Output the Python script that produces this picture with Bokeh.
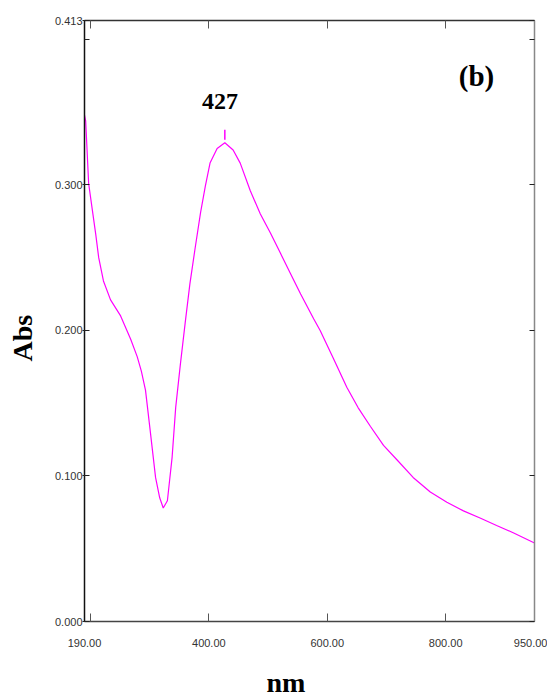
from bokeh.plotting import figure
from bokeh.models import Range1d, LinearAxis, FixedTicker, PrintfTickFormatter, Label, Title, ColumnDataSource
from bokeh.embed import file_html
from bokeh.resources import INLINE

# Spectrum
wavelength = [190, 192, 197, 203.5, 209, 214, 222, 234, 251, 268, 279, 286, 293, 301, 310, 317,
              323, 330, 338, 344, 352, 360, 368, 377, 386, 394, 402, 414, 427, 441, 453, 470,
              487, 504, 521, 538, 555, 577, 588, 610, 633, 652, 673, 695, 718, 745, 774, 802,
              830, 859, 886, 914, 950]
absorb = [0.348, 0.344, 0.301, 0.282, 0.266, 0.250, 0.234, 0.221, 0.210, 0.194, 0.182, 0.172,
          0.159, 0.131, 0.099, 0.085, 0.078, 0.083, 0.113, 0.147, 0.177, 0.205, 0.232, 0.257,
          0.281, 0.299, 0.315, 0.325, 0.329, 0.324, 0.315, 0.296, 0.280, 0.267, 0.253, 0.239,
          0.225, 0.208, 0.200, 0.181, 0.161, 0.147, 0.134, 0.121, 0.111, 0.099, 0.089, 0.082,
          0.076, 0.071, 0.066, 0.061, 0.054]

peak_x = [427, 427]
peak_y = [0.331, 0.338]

x_ticks = [190, 400, 600, 800, 950]
x_minor = [200]
y_ticks = [0.0, 0.1, 0.2, 0.3, 0.413]
y_minor = [0.4]

p = figure(width=547, height=697, output_backend="svg", toolbar_location=None,
           x_range=Range1d(190, 950), y_range=Range1d(0, 0.413),
           x_axis_location=None, y_axis_location=None,
           min_border_left=84, min_border_right=13, min_border_top=20, min_border_bottom=76)
p.grid.visible = False
p.outline_line_color = None
p.background_fill_color = "white"
p.border_fill_color = "white"

src = ColumnDataSource(dict(x=wavelength, y=absorb))
p.line("x", "y", source=src, line_color="#FF00FF", line_width=1.2)
p.line(peak_x, peak_y, line_color="#FF00FF", line_width=1.5)

tick_font = "Liberation Sans"

def make_x_axis(labels=True, color="#444444"):
    ax = LinearAxis(ticker=FixedTicker(ticks=x_ticks, minor_ticks=x_minor),
                    formatter=PrintfTickFormatter(format="%.2f"))
    ax.axis_line_color = color
    ax.axis_line_width = 1.5
    ax.major_tick_in = 8
    ax.major_tick_out = 0
    ax.minor_tick_in = 8
    ax.minor_tick_out = 0
    ax.major_tick_line_color = "#555555"
    ax.minor_tick_line_color = "#555555"
    ax.major_label_text_font = tick_font
    ax.major_label_text_font_size = "11px"
    ax.major_label_text_color = "#333333"
    ax.major_label_standoff = 17
    if not labels:
        ax.major_label_overrides = {t: "" for t in x_ticks}
        ax.major_label_standoff = 0
    return ax

def make_y_axis(labels=True, color="#111111"):
    ax = LinearAxis(ticker=FixedTicker(ticks=y_ticks, minor_ticks=y_minor),
                    formatter=PrintfTickFormatter(format="%.3f"))
    ax.axis_line_color = color
    ax.axis_line_width = 1.5
    ax.major_tick_in = 5
    ax.major_tick_out = 2
    ax.minor_tick_in = 5
    ax.minor_tick_out = 0
    ax.major_tick_line_color = "#222222"
    ax.minor_tick_line_color = "#222222"
    ax.major_label_text_font = tick_font
    ax.major_label_text_font_size = "11px"
    ax.major_label_text_color = "#333333"
    ax.major_label_standoff = 0
    if not labels:
        ax.major_label_overrides = {t: "" for t in y_ticks}
        ax.major_label_standoff = 0
        ax.major_tick_out = 0
    return ax

def spacer(size, tick):
    # invisible axis used only to reserve room between the tick labels and the axis title
    ax = LinearAxis(ticker=FixedTicker(ticks=[tick]))
    ax.major_label_overrides = {tick: ""}
    ax.major_label_standoff = 0
    ax.axis_line_color = None
    ax.major_tick_line_color = None
    ax.minor_tick_line_color = None
    ax.major_tick_in = 0
    ax.major_tick_out = size
    ax.minor_tick_in = 0
    ax.minor_tick_out = 0
    return ax

p.add_layout(make_x_axis(True, "#444444"), "below")
p.add_layout(make_x_axis(False, "#333333"), "above")
p.add_layout(make_y_axis(True, "#111111"), "left")
p.add_layout(make_y_axis(False, "#888888"), "right")
p.add_layout(spacer(15, x_ticks[2]), "below")
p.add_layout(spacer(14, y_ticks[2]), "left")

serif = "Liberation Serif"
p.add_layout(Title(text="nm", align="left", offset=182, text_font=serif, text_font_style="bold",
                   text_font_size="28px", text_color="black", standoff=0), "below")
p.add_layout(Title(text="Abs", align="left", offset=260, text_font=serif, text_font_style="bold",
                   text_font_size="28px", text_color="black", standoff=0), "left")

p.add_layout(Label(x=419, y=0.357, text="427", text_font=serif, text_font_style="bold",
                   text_font_size="24px", text_align="center", text_baseline="middle",
                   text_color="black"))
p.add_layout(Label(x=852, y=0.375, text="(b)", text_font=serif, text_font_style="bold",
                   text_font_size="29px", text_align="center", text_baseline="middle",
                   text_color="black"))

open("out.html", "w").write(file_html(p, INLINE))
